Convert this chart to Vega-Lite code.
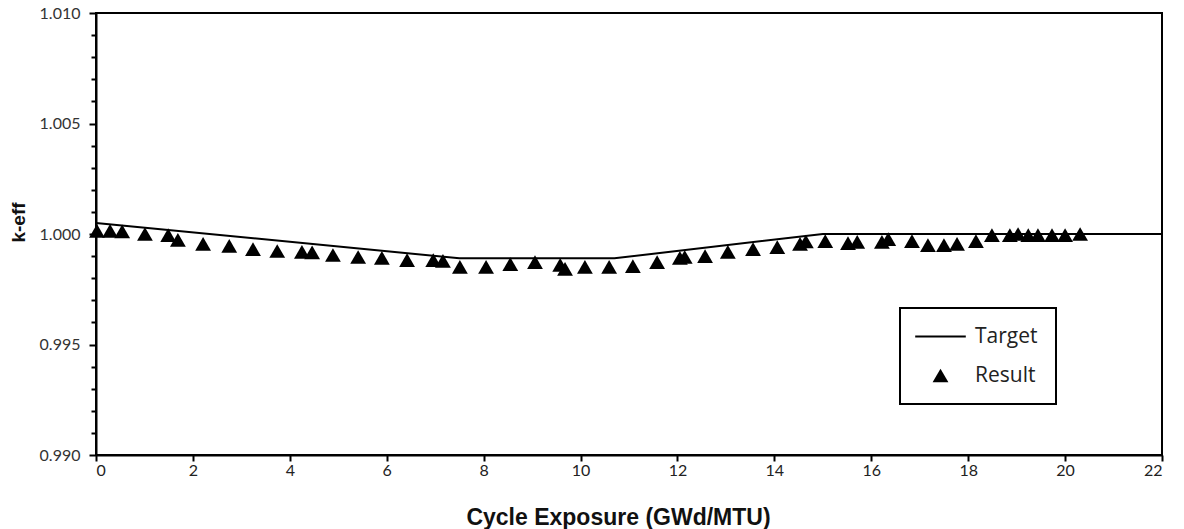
{
  "$schema": "https://vega.github.io/schema/vega-lite/v6.json",
  "width": 1066,
  "height": 442,
  "autosize": {"type": "none"},
  "padding": {"left": 96, "top": 13, "right": 22, "bottom": 74},
  "background": "white",
  "config": {
    "view": {"stroke": "black", "strokeWidth": 2},
    "font": "Lato",
    "legend": {"strokeColor": "black", "strokeWidth": 2, "fillColor": "white", "symbolFillColor": "black", "symbolOpacity": 1}
  },
  "datasets": {
    "target": [
      {"exposure": 0, "keff": 1.0005},
      {"exposure": 7.5, "keff": 0.9989},
      {"exposure": 10.7, "keff": 0.9989},
      {"exposure": 15, "keff": 1.0},
      {"exposure": 22, "keff": 1.0}
    ],
    "result": [
      {"exposure": 0.02, "keff": 1.00014, "series": "Result"},
      {"exposure": 0.29, "keff": 1.00014, "series": "Result"},
      {"exposure": 0.54, "keff": 1.00012, "series": "Result"},
      {"exposure": 1.01, "keff": 1.0, "series": "Result"},
      {"exposure": 1.49, "keff": 0.99995, "series": "Result"},
      {"exposure": 1.69, "keff": 0.99973, "series": "Result"},
      {"exposure": 2.21, "keff": 0.99955, "series": "Result"},
      {"exposure": 2.75, "keff": 0.99946, "series": "Result"},
      {"exposure": 3.24, "keff": 0.99932, "series": "Result"},
      {"exposure": 3.74, "keff": 0.99923, "series": "Result"},
      {"exposure": 4.25, "keff": 0.99919, "series": "Result"},
      {"exposure": 4.46, "keff": 0.99917, "series": "Result"},
      {"exposure": 4.89, "keff": 0.99905, "series": "Result"},
      {"exposure": 5.41, "keff": 0.99896, "series": "Result"},
      {"exposure": 5.9, "keff": 0.99892, "series": "Result"},
      {"exposure": 6.42, "keff": 0.99882, "series": "Result"},
      {"exposure": 6.96, "keff": 0.99882, "series": "Result"},
      {"exposure": 7.16, "keff": 0.99878, "series": "Result"},
      {"exposure": 7.51, "keff": 0.99851, "series": "Result"},
      {"exposure": 8.05, "keff": 0.99851, "series": "Result"},
      {"exposure": 8.55, "keff": 0.99864, "series": "Result"},
      {"exposure": 9.06, "keff": 0.99873, "series": "Result"},
      {"exposure": 9.58, "keff": 0.9986, "series": "Result"},
      {"exposure": 9.68, "keff": 0.99842, "series": "Result"},
      {"exposure": 10.09, "keff": 0.99851, "series": "Result"},
      {"exposure": 10.59, "keff": 0.99851, "series": "Result"},
      {"exposure": 11.08, "keff": 0.99855, "series": "Result"},
      {"exposure": 11.58, "keff": 0.99873, "series": "Result"},
      {"exposure": 12.05, "keff": 0.99892, "series": "Result"},
      {"exposure": 12.15, "keff": 0.99896, "series": "Result"},
      {"exposure": 12.57, "keff": 0.999, "series": "Result"},
      {"exposure": 13.04, "keff": 0.99919, "series": "Result"},
      {"exposure": 13.56, "keff": 0.99932, "series": "Result"},
      {"exposure": 14.06, "keff": 0.99941, "series": "Result"},
      {"exposure": 14.53, "keff": 0.99955, "series": "Result"},
      {"exposure": 14.65, "keff": 0.99966, "series": "Result"},
      {"exposure": 15.05, "keff": 0.99968, "series": "Result"},
      {"exposure": 15.52, "keff": 0.99959, "series": "Result"},
      {"exposure": 15.71, "keff": 0.99964, "series": "Result"},
      {"exposure": 16.22, "keff": 0.99964, "series": "Result"},
      {"exposure": 16.35, "keff": 0.99977, "series": "Result"},
      {"exposure": 16.84, "keff": 0.99968, "series": "Result"},
      {"exposure": 17.17, "keff": 0.9995, "series": "Result"},
      {"exposure": 17.5, "keff": 0.9995, "series": "Result"},
      {"exposure": 17.77, "keff": 0.99955, "series": "Result"},
      {"exposure": 18.16, "keff": 0.99968, "series": "Result"},
      {"exposure": 18.49, "keff": 0.99995, "series": "Result"},
      {"exposure": 18.86, "keff": 0.99995, "series": "Result"},
      {"exposure": 19.03, "keff": 1.0, "series": "Result"},
      {"exposure": 19.24, "keff": 0.99995, "series": "Result"},
      {"exposure": 19.44, "keff": 0.99995, "series": "Result"},
      {"exposure": 19.73, "keff": 0.99995, "series": "Result"},
      {"exposure": 20.0, "keff": 0.99995, "series": "Result"},
      {"exposure": 20.31, "keff": 1.0, "series": "Result"}
    ]
  },
  "encoding": {
    "x": {
      "field": "exposure",
      "type": "quantitative",
      "scale": {"domain": [0, 22], "nice": false, "zero": false},
      "axis": {
        "values": [0, 2, 4, 6, 8, 10, 12, 14, 16, 18, 20, 22],
        "grid": false,
        "domainColor": "black",
        "domainWidth": 2,
        "tickColor": "black",
        "tickWidth": 2,
        "tickSize": 6,
        "labelPadding": 1,
        "labelFont": "Lato",
        "labelFontSize": 16,
        "labelColor": "#222",
        "title": "Cycle Exposure (GWd/MTU)",
        "titleFont": "Liberation Sans",
        "titleFontSize": 23,
        "titleFontWeight": "bold",
        "titleColor": "#111",
        "titleX": 522,
        "titleY": 62,
        "titleBaseline": "middle"
      }
    },
    "y": {
      "field": "keff",
      "type": "quantitative",
      "scale": {"domain": [0.99, 1.01], "nice": false, "zero": false},
      "axis": {
        "values": [0.99, 0.991, 0.992, 0.993, 0.994, 0.995, 0.996, 0.997, 0.998, 0.999, 1.0, 1.001, 1.002, 1.003, 1.004, 1.005, 1.006, 1.007, 1.008, 1.009, 1.01],
        "labelExpr": "round(datum.value*1000) % 5 == 0 ? format(datum.value, '.3f') : ''",
        "tickSize": {"condition": {"test": "round(datum.value*1000) % 5 == 0", "value": 7}, "value": 5},
        "grid": false,
        "domainColor": "black",
        "domainWidth": 2,
        "tickColor": "black",
        "tickWidth": 2,
        "labelPadding": 9,
        "labelFont": "Lato",
        "labelFontSize": 16,
        "labelColor": "#333",
        "title": "k-eff",
        "titleFont": "Liberation Sans",
        "titleFontSize": 19,
        "titleFontWeight": "bold",
        "titleColor": "#111",
        "titleAngle": -90,
        "titleX": -78,
        "titleY": 209,
        "titleBaseline": "middle"
      }
    }
  },
  "layer": [
    {
      "data": {"name": "target"},
      "mark": {"type": "line", "color": "black", "strokeWidth": 2}
    },
    {
      "data": {"name": "result"},
      "mark": {"type": "point", "filled": true, "color": "black", "opacity": 1, "size": 250},
      "encoding": {
        "shape": {
          "field": "series",
          "type": "nominal",
          "scale": {"domain": ["Target", "Result"], "range": ["M-3.2,-0.14H3.2V0.14H-3.2Z", "triangle-up"]},
          "legend": {
            "title": null,
            "orient": "none",
            "legendX": 804,
            "legendY": 295,
            "padding": 18,
            "rowPadding": 17,
            "symbolOffset": 12,
            "labelOffset": 24,
            "labelFont": "Open Sans",
            "labelFontSize": 21,
            "labelColor": "#222",
            "symbolSize": 250
          }
        }
      }
    }
  ]
}
